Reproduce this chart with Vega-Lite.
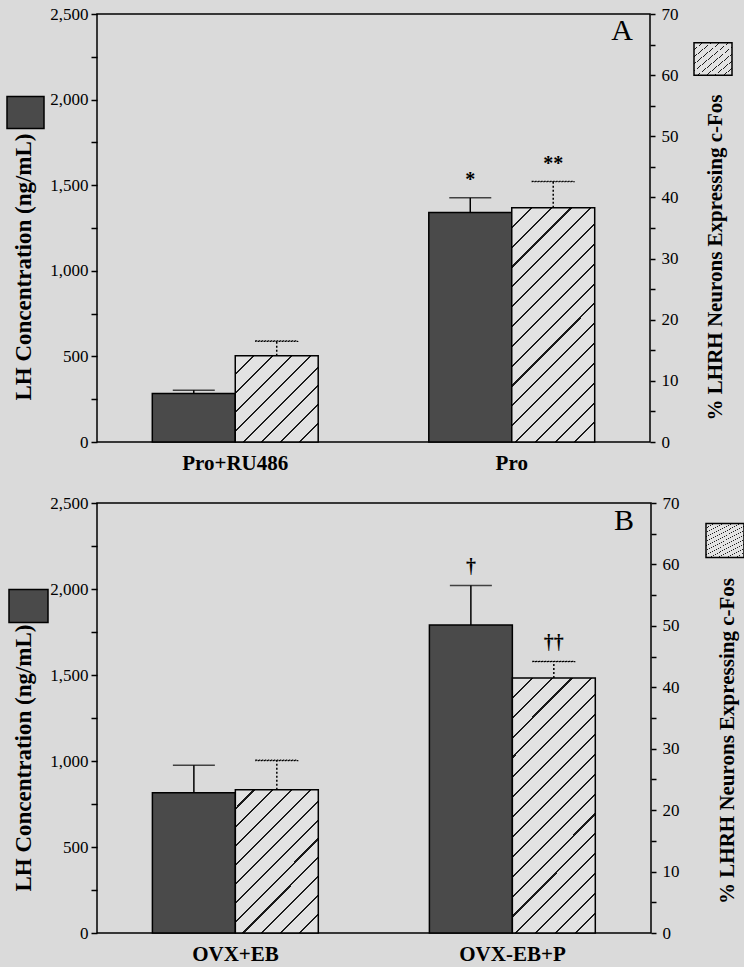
{
  "$schema": "https://vega.github.io/schema/vega-lite/v6.json",
  "background": "#dadada",
  "padding": {"left": 5, "top": 4, "right": 0, "bottom": 2},
  "spacing": 19,
  "resolve": {"scale": {"fill": "independent", "stroke": "independent"}, "legend": {"fill": "independent", "stroke": "independent"}},
  "config": {
    "font": "Liberation Serif",
    "view": {"stroke": "black", "strokeWidth": 1.5},
    "axis": {"domain": false, "grid": false, "labelFont": "Liberation Serif", "labelFontSize": 17, "labelColor": "black", "tickColor": "black", "tickWidth": 1.5, "titleFont": "Liberation Serif", "titleFontSize": 21, "titleFontWeight": "bold", "titleColor": "black"},
    "legend": {"padding": 0, "labelFontSize": 1, "labelOffset": 0, "symbolStrokeColor": "black", "symbolStrokeWidth": 1.5}
  },
  "datasets": {
    "rows": [
      {"panel": "A", "group": "Pro+RU486", "series": "LH", "mean": 283, "upper": 302, "sig": ""},
      {"panel": "A", "group": "Pro+RU486", "series": "Fos", "mean": 14.1, "upper": 16.5, "sig": ""},
      {"panel": "A", "group": "Pro", "series": "LH", "mean": 1341, "upper": 1426, "sig": "*"},
      {"panel": "A", "group": "Pro", "series": "Fos", "mean": 38.3, "upper": 42.6, "sig": "**"},
      {"panel": "B", "group": "OVX+EB", "series": "LH", "mean": 815, "upper": 976, "sig": ""},
      {"panel": "B", "group": "OVX+EB", "series": "Fos", "mean": 23.3, "upper": 28.1, "sig": ""},
      {"panel": "B", "group": "OVX-EB+P", "series": "LH", "mean": 1791, "upper": 2021, "sig": "†"},
      {"panel": "B", "group": "OVX-EB+P", "series": "Fos", "mean": 41.5, "upper": 44.2, "sig": "††"}
    ]
  },
  "vconcat": [
    {
      "width": 553,
      "height": 428,
      "title": {"text": "A", "anchor": "end", "frame": "group", "orient": "top", "offset": -41, "dx": -17, "fontSize": 30, "font": "Liberation Serif", "fontWeight": "normal", "color": "black", "baseline": "top"},
      "data": {"name": "rows"},
      "transform": [{"filter": "datum.panel === 'A'"}],
      "encoding": {
        "x": {"field": "group", "type": "nominal", "title": null, "scale": {"domain": ["Pro+RU486", "Pro"], "paddingInner": 0.4, "paddingOuter": 0.2}, "axis": {"ticks": false, "domain": false, "labelAngle": 0, "labelFontSize": 21, "labelFontWeight": "bold", "labelPadding": 10}},
        "xOffset": {"field": "series", "type": "nominal", "scale": {"domain": ["LH", "Fos"], "paddingInner": 0, "paddingOuter": 0}}
      },
      "layer": [
        {
          "transform": [{"filter": "datum.series === 'LH'"}],
          "mark": {"type": "bar", "stroke": "black", "strokeWidth": 1.5},
          "encoding": {
            "y": {"field": "mean", "type": "quantitative", "title": "LH Concentration (ng/mL)", "scale": {"domain": [0, 2500]}, "axis": {"orient": "left", "values": [0, 250, 500, 750, 1000, 1250, 1500, 1750, 2000, 2250, 2500], "format": ",d", "labelExpr": "datum.value % 500 === 0 ? datum.label : ''", "tickSize": 6, "labelPadding": 3, "titleFontSize": 23, "titleAngle": 270, "titleAlign": "center", "titleBaseline": "alphabetic", "titleX": -67, "titleY": 252.5, "encode": {"ticks": {"update": {"x2": {"signal": "datum.value % 500 === 0 ? -6 : -3"}}}}}},
            "fill": {"field": "series", "type": "nominal", "scale": {"domain": ["LH"], "range": ["#4a4a4a"]}, "legend": {"orient": "none", "legendX": -91, "legendY": 79, "title": null, "labelExpr": "''", "symbolType": "M-1,-0.86H1V0.86H-1Z", "symbolSize": 1369}}
          }
        },
        {
          "transform": [{"filter": "datum.series === 'LH'"}],
          "mark": {"type": "rule", "color": "black", "strokeWidth": 1.5},
          "encoding": {"y": {"field": "mean", "type": "quantitative", "scale": {"domain": [0, 2500]}, "axis": null}, "y2": {"field": "upper"}}
        },
        {
          "transform": [{"filter": "datum.series === 'LH'"}],
          "mark": {"type": "tick", "color": "black", "size": 42, "thickness": 1.5},
          "encoding": {"y": {"field": "upper", "type": "quantitative", "scale": {"domain": [0, 2500]}, "axis": null}}
        },
        {
          "transform": [{"filter": "datum.series === 'LH'"}],
          "mark": {"type": "text", "font": "Liberation Serif", "fontSize": 20, "fontWeight": "bold", "color": "black", "baseline": "middle", "dy": -18},
          "encoding": {"y": {"field": "upper", "type": "quantitative", "scale": {"domain": [0, 2500]}, "axis": null}, "text": {"field": "sig"}}
        },
        {
          "transform": [{"filter": "datum.series === 'Fos'"}],
          "mark": {"type": "bar", "strokeWidth": 1.5},
          "encoding": {
            "fill": {
              "condition": {"test": "datum.group === 'Pro'", "value": {"gradient": "linear", "x1": 0, "y1": 0, "x2": 0.4264, "y2": 1.2033, "stops": [
                {"offset": 0, "color": "#e2e2e2"},
                {"offset": 0.0592, "color": "#e2e2e2"}, {"offset": 0.0592, "color": "#1a1a1a"}, {"offset": 0.0658, "color": "#1a1a1a"}, {"offset": 0.0658, "color": "#e2e2e2"},
                {"offset": 0.1217, "color": "#e2e2e2"}, {"offset": 0.1217, "color": "#1a1a1a"}, {"offset": 0.1283, "color": "#1a1a1a"}, {"offset": 0.1283, "color": "#e2e2e2"},
                {"offset": 0.1842, "color": "#e2e2e2"}, {"offset": 0.1842, "color": "#1a1a1a"}, {"offset": 0.1908, "color": "#1a1a1a"}, {"offset": 0.1908, "color": "#e2e2e2"},
                {"offset": 0.2467, "color": "#e2e2e2"}, {"offset": 0.2467, "color": "#1a1a1a"}, {"offset": 0.2533, "color": "#1a1a1a"}, {"offset": 0.2533, "color": "#e2e2e2"},
                {"offset": 0.3092, "color": "#e2e2e2"}, {"offset": 0.3092, "color": "#1a1a1a"}, {"offset": 0.3158, "color": "#1a1a1a"}, {"offset": 0.3158, "color": "#e2e2e2"},
                {"offset": 0.3717, "color": "#e2e2e2"}, {"offset": 0.3717, "color": "#1a1a1a"}, {"offset": 0.3783, "color": "#1a1a1a"}, {"offset": 0.3783, "color": "#e2e2e2"},
                {"offset": 0.4342, "color": "#e2e2e2"}, {"offset": 0.4342, "color": "#1a1a1a"}, {"offset": 0.4408, "color": "#1a1a1a"}, {"offset": 0.4408, "color": "#e2e2e2"},
                {"offset": 0.4967, "color": "#e2e2e2"}, {"offset": 0.4967, "color": "#1a1a1a"}, {"offset": 0.5033, "color": "#1a1a1a"}, {"offset": 0.5033, "color": "#e2e2e2"},
                {"offset": 0.5592, "color": "#e2e2e2"}, {"offset": 0.5592, "color": "#1a1a1a"}, {"offset": 0.5658, "color": "#1a1a1a"}, {"offset": 0.5658, "color": "#e2e2e2"},
                {"offset": 0.6217, "color": "#e2e2e2"}, {"offset": 0.6217, "color": "#1a1a1a"}, {"offset": 0.6283, "color": "#1a1a1a"}, {"offset": 0.6283, "color": "#e2e2e2"},
                {"offset": 0.6842, "color": "#e2e2e2"}, {"offset": 0.6842, "color": "#1a1a1a"}, {"offset": 0.6908, "color": "#1a1a1a"}, {"offset": 0.6908, "color": "#e2e2e2"},
                {"offset": 0.7467, "color": "#e2e2e2"}, {"offset": 0.7467, "color": "#1a1a1a"}, {"offset": 0.7533, "color": "#1a1a1a"}, {"offset": 0.7533, "color": "#e2e2e2"},
                {"offset": 0.8092, "color": "#e2e2e2"}, {"offset": 0.8092, "color": "#1a1a1a"}, {"offset": 0.8158, "color": "#1a1a1a"}, {"offset": 0.8158, "color": "#e2e2e2"},
                {"offset": 0.8717, "color": "#e2e2e2"}, {"offset": 0.8717, "color": "#1a1a1a"}, {"offset": 0.8783, "color": "#1a1a1a"}, {"offset": 0.8783, "color": "#e2e2e2"},
                {"offset": 0.9342, "color": "#e2e2e2"}, {"offset": 0.9342, "color": "#1a1a1a"}, {"offset": 0.9408, "color": "#1a1a1a"}, {"offset": 0.9408, "color": "#e2e2e2"},
                {"offset": 1, "color": "#e2e2e2"}]}},
              "value": {"gradient": "linear", "x1": 0, "y1": 0, "x2": 0.981, "y2": 1.019, "stops": [
                {"offset": 0, "color": "#e2e2e2"},
                {"offset": 0.1051, "color": "#e2e2e2"}, {"offset": 0.1051, "color": "#1a1a1a"}, {"offset": 0.1171, "color": "#1a1a1a"}, {"offset": 0.1171, "color": "#e2e2e2"},
                {"offset": 0.2162, "color": "#e2e2e2"}, {"offset": 0.2162, "color": "#1a1a1a"}, {"offset": 0.2282, "color": "#1a1a1a"}, {"offset": 0.2282, "color": "#e2e2e2"},
                {"offset": 0.3273, "color": "#e2e2e2"}, {"offset": 0.3273, "color": "#1a1a1a"}, {"offset": 0.3393, "color": "#1a1a1a"}, {"offset": 0.3393, "color": "#e2e2e2"},
                {"offset": 0.4384, "color": "#e2e2e2"}, {"offset": 0.4384, "color": "#1a1a1a"}, {"offset": 0.4504, "color": "#1a1a1a"}, {"offset": 0.4504, "color": "#e2e2e2"},
                {"offset": 0.5496, "color": "#e2e2e2"}, {"offset": 0.5496, "color": "#1a1a1a"}, {"offset": 0.5616, "color": "#1a1a1a"}, {"offset": 0.5616, "color": "#e2e2e2"},
                {"offset": 0.6607, "color": "#e2e2e2"}, {"offset": 0.6607, "color": "#1a1a1a"}, {"offset": 0.6727, "color": "#1a1a1a"}, {"offset": 0.6727, "color": "#e2e2e2"},
                {"offset": 0.7718, "color": "#e2e2e2"}, {"offset": 0.7718, "color": "#1a1a1a"}, {"offset": 0.7838, "color": "#1a1a1a"}, {"offset": 0.7838, "color": "#e2e2e2"},
                {"offset": 0.8829, "color": "#e2e2e2"}, {"offset": 0.8829, "color": "#1a1a1a"}, {"offset": 0.8949, "color": "#1a1a1a"}, {"offset": 0.8949, "color": "#e2e2e2"},
                {"offset": 1, "color": "#e2e2e2"}]}
            },
            "y": {"field": "mean", "type": "quantitative", "title": "% LHRH Neurons Expressing c-Fos", "scale": {"domain": [0, 70]}, "axis": {"orient": "right", "values": [0, 5, 10, 15, 20, 25, 30, 35, 40, 45, 50, 55, 60, 65, 70], "labelExpr": "datum.value % 10 === 0 ? datum.label : ''", "tickSize": 5, "labelPadding": 6, "titleAngle": 270, "titleAlign": "center", "titleBaseline": "alphabetic", "titleX": 71, "titleY": 243, "encode": {"ticks": {"update": {"x2": {"signal": "datum.value % 10 === 0 ? 5 : 3"}}}}}},
            "stroke": {"field": "series", "type": "nominal", "scale": {"domain": ["Fos"], "range": ["black"]}, "legend": {"orient": "none", "legendX": 596, "legendY": 25, "title": null, "labelExpr": "''", "symbolType": "M-1,-0.86H1V0.86H-1Z", "symbolSize": 1444, "symbolStrokeWidth": 1.5, "encode": {"symbols": {"update": {"fill": {"value": {"gradient": "linear", "x1": 0, "y1": 0, "x2": 1, "y2": 1, "stops": [
              {"offset": 0, "color": "#1a1a1a"}, {"offset": 0.015, "color": "#1a1a1a"}, {"offset": 0.015, "color": "#e2e2e2"},
              {"offset": 0.318, "color": "#e2e2e2"}, {"offset": 0.318, "color": "#1a1a1a"}, {"offset": 0.348, "color": "#1a1a1a"}, {"offset": 0.348, "color": "#e2e2e2"},
              {"offset": 0.652, "color": "#e2e2e2"}, {"offset": 0.652, "color": "#1a1a1a"}, {"offset": 0.682, "color": "#1a1a1a"}, {"offset": 0.682, "color": "#e2e2e2"},
              {"offset": 0.985, "color": "#e2e2e2"}, {"offset": 0.985, "color": "#1a1a1a"}, {"offset": 1, "color": "#1a1a1a"}]}}, "fillOpacity": {"value": 1}}}}}}
          }
        },
        {
          "transform": [{"filter": "datum.series === 'Fos'"}],
          "mark": {"type": "rule", "color": "black", "strokeWidth": 1.5, "strokeDash": [2, 2]},
          "encoding": {"y": {"field": "mean", "type": "quantitative", "scale": {"domain": [0, 70]}, "axis": null}, "y2": {"field": "upper"}}
        },
        {
          "transform": [{"filter": "datum.series === 'Fos'"}],
          "mark": {"type": "tick", "size": 42, "thickness": 0.4, "fill": null, "fillOpacity": 0, "stroke": "black", "strokeWidth": 1.2, "strokeDash": [1.5, 1.5]},
          "encoding": {"y": {"field": "upper", "type": "quantitative", "scale": {"domain": [0, 70]}, "axis": null}}
        },
        {
          "transform": [{"filter": "datum.series === 'Fos'"}],
          "mark": {"type": "text", "font": "Liberation Serif", "fontSize": 20, "fontWeight": "bold", "color": "black", "baseline": "middle", "dy": -18},
          "encoding": {"y": {"field": "upper", "type": "quantitative", "scale": {"domain": [0, 70]}, "axis": null}, "text": {"field": "sig"}}
        }
      ],
      "resolve": {"scale": {"y": "independent"}}
    },
    {
      "width": 554,
      "height": 430,
      "title": {"text": "B", "anchor": "end", "frame": "group", "orient": "top", "offset": -41.5, "dx": -17, "fontSize": 30, "font": "Liberation Serif", "fontWeight": "normal", "color": "black", "baseline": "top"},
      "data": {"name": "rows"},
      "transform": [{"filter": "datum.panel === 'B'"}],
      "encoding": {
        "x": {"field": "group", "type": "nominal", "title": null, "scale": {"domain": ["OVX+EB", "OVX-EB+P"], "paddingInner": 0.4, "paddingOuter": 0.2}, "axis": {"ticks": false, "domain": false, "labelAngle": 0, "labelFontSize": 21, "labelFontWeight": "bold", "labelPadding": 10}},
        "xOffset": {"field": "series", "type": "nominal", "scale": {"domain": ["LH", "Fos"], "paddingInner": 0, "paddingOuter": 0}}
      },
      "layer": [
        {
          "transform": [{"filter": "datum.series === 'LH'"}],
          "mark": {"type": "bar", "stroke": "black", "strokeWidth": 1.5},
          "encoding": {
            "y": {"field": "mean", "type": "quantitative", "title": "LH Concentration (ng/mL)", "scale": {"domain": [0, 2500]}, "axis": {"orient": "left", "values": [0, 250, 500, 750, 1000, 1250, 1500, 1750, 2000, 2250, 2500], "format": ",d", "labelExpr": "datum.value % 500 === 0 ? datum.label : ''", "tickSize": 6, "labelPadding": 3, "titleFontSize": 23, "titleAngle": 270, "titleAlign": "center", "titleBaseline": "alphabetic", "titleX": -67, "titleY": 254.5, "encode": {"ticks": {"update": {"x2": {"signal": "datum.value % 500 === 0 ? -6 : -3"}}}}}},
            "fill": {"field": "series", "type": "nominal", "scale": {"domain": ["LH"], "range": ["#4a4a4a"]}, "legend": {"orient": "none", "legendX": -89, "legendY": 82.5, "title": null, "labelExpr": "''", "symbolType": "M-1,-0.85H1V0.85H-1Z", "symbolSize": 1521}}
          }
        },
        {
          "transform": [{"filter": "datum.series === 'LH'"}],
          "mark": {"type": "rule", "color": "black", "strokeWidth": 1.5},
          "encoding": {"y": {"field": "mean", "type": "quantitative", "scale": {"domain": [0, 2500]}, "axis": null}, "y2": {"field": "upper"}}
        },
        {
          "transform": [{"filter": "datum.series === 'LH'"}],
          "mark": {"type": "tick", "color": "black", "size": 42, "thickness": 1.5},
          "encoding": {"y": {"field": "upper", "type": "quantitative", "scale": {"domain": [0, 2500]}, "axis": null}}
        },
        {
          "transform": [{"filter": "datum.series === 'LH'"}],
          "mark": {"type": "text", "font": "Liberation Serif", "fontSize": 20, "fontWeight": "bold", "color": "black", "baseline": "middle", "dy": -18},
          "encoding": {"y": {"field": "upper", "type": "quantitative", "scale": {"domain": [0, 2500]}, "axis": null}, "text": {"field": "sig"}}
        },
        {
          "transform": [{"filter": "datum.series === 'Fos'"}],
          "mark": {"type": "bar", "strokeWidth": 1.5},
          "encoding": {
            "fill": {
              "condition": {"test": "datum.group === 'OVX-EB+P'", "value": {"gradient": "linear", "x1": 0, "y1": 0, "x2": 0.3907, "y2": 1.1986, "stops": [
                {"offset": 0, "color": "#e2e2e2"},
                {"offset": 0.0557, "color": "#e2e2e2"}, {"offset": 0.0557, "color": "#1a1a1a"}, {"offset": 0.0619, "color": "#1a1a1a"}, {"offset": 0.0619, "color": "#e2e2e2"},
                {"offset": 0.1145, "color": "#e2e2e2"}, {"offset": 0.1145, "color": "#1a1a1a"}, {"offset": 0.1207, "color": "#1a1a1a"}, {"offset": 0.1207, "color": "#e2e2e2"},
                {"offset": 0.1734, "color": "#e2e2e2"}, {"offset": 0.1734, "color": "#1a1a1a"}, {"offset": 0.1796, "color": "#1a1a1a"}, {"offset": 0.1796, "color": "#e2e2e2"},
                {"offset": 0.2322, "color": "#e2e2e2"}, {"offset": 0.2322, "color": "#1a1a1a"}, {"offset": 0.2384, "color": "#1a1a1a"}, {"offset": 0.2384, "color": "#e2e2e2"},
                {"offset": 0.2910, "color": "#e2e2e2"}, {"offset": 0.2910, "color": "#1a1a1a"}, {"offset": 0.2972, "color": "#1a1a1a"}, {"offset": 0.2972, "color": "#e2e2e2"},
                {"offset": 0.3498, "color": "#e2e2e2"}, {"offset": 0.3498, "color": "#1a1a1a"}, {"offset": 0.3560, "color": "#1a1a1a"}, {"offset": 0.3560, "color": "#e2e2e2"},
                {"offset": 0.4087, "color": "#e2e2e2"}, {"offset": 0.4087, "color": "#1a1a1a"}, {"offset": 0.4149, "color": "#1a1a1a"}, {"offset": 0.4149, "color": "#e2e2e2"},
                {"offset": 0.4675, "color": "#e2e2e2"}, {"offset": 0.4675, "color": "#1a1a1a"}, {"offset": 0.4737, "color": "#1a1a1a"}, {"offset": 0.4737, "color": "#e2e2e2"},
                {"offset": 0.5263, "color": "#e2e2e2"}, {"offset": 0.5263, "color": "#1a1a1a"}, {"offset": 0.5325, "color": "#1a1a1a"}, {"offset": 0.5325, "color": "#e2e2e2"},
                {"offset": 0.5851, "color": "#e2e2e2"}, {"offset": 0.5851, "color": "#1a1a1a"}, {"offset": 0.5913, "color": "#1a1a1a"}, {"offset": 0.5913, "color": "#e2e2e2"},
                {"offset": 0.6440, "color": "#e2e2e2"}, {"offset": 0.6440, "color": "#1a1a1a"}, {"offset": 0.6502, "color": "#1a1a1a"}, {"offset": 0.6502, "color": "#e2e2e2"},
                {"offset": 0.7028, "color": "#e2e2e2"}, {"offset": 0.7028, "color": "#1a1a1a"}, {"offset": 0.7090, "color": "#1a1a1a"}, {"offset": 0.7090, "color": "#e2e2e2"},
                {"offset": 0.7616, "color": "#e2e2e2"}, {"offset": 0.7616, "color": "#1a1a1a"}, {"offset": 0.7678, "color": "#1a1a1a"}, {"offset": 0.7678, "color": "#e2e2e2"},
                {"offset": 0.8204, "color": "#e2e2e2"}, {"offset": 0.8204, "color": "#1a1a1a"}, {"offset": 0.8266, "color": "#1a1a1a"}, {"offset": 0.8266, "color": "#e2e2e2"},
                {"offset": 0.8793, "color": "#e2e2e2"}, {"offset": 0.8793, "color": "#1a1a1a"}, {"offset": 0.8855, "color": "#1a1a1a"}, {"offset": 0.8855, "color": "#e2e2e2"},
                {"offset": 0.9381, "color": "#e2e2e2"}, {"offset": 0.9381, "color": "#1a1a1a"}, {"offset": 0.9443, "color": "#1a1a1a"}, {"offset": 0.9443, "color": "#e2e2e2"},
                {"offset": 1, "color": "#e2e2e2"}]}},
              "value": {"gradient": "linear", "x1": 0, "y1": 0, "x2": 0.6864, "y2": 1.182, "stops": [
                {"offset": 0, "color": "#e2e2e2"},
                {"offset": 0.0786, "color": "#e2e2e2"}, {"offset": 0.0786, "color": "#1a1a1a"}, {"offset": 0.0880, "color": "#1a1a1a"}, {"offset": 0.0880, "color": "#e2e2e2"},
                {"offset": 0.1620, "color": "#e2e2e2"}, {"offset": 0.1620, "color": "#1a1a1a"}, {"offset": 0.1714, "color": "#1a1a1a"}, {"offset": 0.1714, "color": "#e2e2e2"},
                {"offset": 0.2453, "color": "#e2e2e2"}, {"offset": 0.2453, "color": "#1a1a1a"}, {"offset": 0.2547, "color": "#1a1a1a"}, {"offset": 0.2547, "color": "#e2e2e2"},
                {"offset": 0.3286, "color": "#e2e2e2"}, {"offset": 0.3286, "color": "#1a1a1a"}, {"offset": 0.3380, "color": "#1a1a1a"}, {"offset": 0.3380, "color": "#e2e2e2"},
                {"offset": 0.4120, "color": "#e2e2e2"}, {"offset": 0.4120, "color": "#1a1a1a"}, {"offset": 0.4214, "color": "#1a1a1a"}, {"offset": 0.4214, "color": "#e2e2e2"},
                {"offset": 0.4953, "color": "#e2e2e2"}, {"offset": 0.4953, "color": "#1a1a1a"}, {"offset": 0.5047, "color": "#1a1a1a"}, {"offset": 0.5047, "color": "#e2e2e2"},
                {"offset": 0.5786, "color": "#e2e2e2"}, {"offset": 0.5786, "color": "#1a1a1a"}, {"offset": 0.5880, "color": "#1a1a1a"}, {"offset": 0.5880, "color": "#e2e2e2"},
                {"offset": 0.6620, "color": "#e2e2e2"}, {"offset": 0.6620, "color": "#1a1a1a"}, {"offset": 0.6714, "color": "#1a1a1a"}, {"offset": 0.6714, "color": "#e2e2e2"},
                {"offset": 0.7453, "color": "#e2e2e2"}, {"offset": 0.7453, "color": "#1a1a1a"}, {"offset": 0.7547, "color": "#1a1a1a"}, {"offset": 0.7547, "color": "#e2e2e2"},
                {"offset": 0.8286, "color": "#e2e2e2"}, {"offset": 0.8286, "color": "#1a1a1a"}, {"offset": 0.8380, "color": "#1a1a1a"}, {"offset": 0.8380, "color": "#e2e2e2"},
                {"offset": 0.9120, "color": "#e2e2e2"}, {"offset": 0.9120, "color": "#1a1a1a"}, {"offset": 0.9214, "color": "#1a1a1a"}, {"offset": 0.9214, "color": "#e2e2e2"},
                {"offset": 1, "color": "#e2e2e2"}]}
            },
            "y": {"field": "mean", "type": "quantitative", "title": "% LHRH Neurons Expressing c-Fos", "scale": {"domain": [0, 70]}, "axis": {"orient": "right", "values": [0, 5, 10, 15, 20, 25, 30, 35, 40, 45, 50, 55, 60, 65, 70], "labelExpr": "datum.value % 10 === 0 ? datum.label : ''", "tickSize": 5, "labelPadding": 6, "titleAngle": 270, "titleAlign": "center", "titleBaseline": "alphabetic", "titleX": 82, "titleY": 237.5, "encode": {"ticks": {"update": {"x2": {"signal": "datum.value % 10 === 0 ? 5 : 3"}}}}}},
            "stroke": {"field": "series", "type": "nominal", "scale": {"domain": ["Fos"], "range": ["black"]}, "legend": {"orient": "none", "legendX": 608, "legendY": 17.5, "title": null, "labelExpr": "''", "symbolType": "M-1,-0.89H1V0.89H-1Z", "symbolSize": 1444, "symbolStrokeWidth": 1.5, "encode": {"symbols": {"update": {"fill": {"value": {"gradient": "linear", "x1": 0, "y1": 0, "x2": 1, "y2": 1, "stops": [
              {"offset": 0, "color": "#1a1a1a"}, {"offset": 0.015, "color": "#1a1a1a"}, {"offset": 0.015, "color": "#e2e2e2"},
              {"offset": 0.318, "color": "#e2e2e2"}, {"offset": 0.318, "color": "#1a1a1a"}, {"offset": 0.348, "color": "#1a1a1a"}, {"offset": 0.348, "color": "#e2e2e2"},
              {"offset": 0.652, "color": "#e2e2e2"}, {"offset": 0.652, "color": "#1a1a1a"}, {"offset": 0.682, "color": "#1a1a1a"}, {"offset": 0.682, "color": "#e2e2e2"},
              {"offset": 0.985, "color": "#e2e2e2"}, {"offset": 0.985, "color": "#1a1a1a"}, {"offset": 1, "color": "#1a1a1a"}]}}, "fillOpacity": {"value": 1}}}}}}
          }
        },
        {
          "transform": [{"filter": "datum.series === 'Fos'"}],
          "mark": {"type": "rule", "color": "black", "strokeWidth": 1.5, "strokeDash": [2, 2]},
          "encoding": {"y": {"field": "mean", "type": "quantitative", "scale": {"domain": [0, 70]}, "axis": null}, "y2": {"field": "upper"}}
        },
        {
          "transform": [{"filter": "datum.series === 'Fos'"}],
          "mark": {"type": "tick", "size": 42, "thickness": 0.4, "fill": null, "fillOpacity": 0, "stroke": "black", "strokeWidth": 1.2, "strokeDash": [1.5, 1.5]},
          "encoding": {"y": {"field": "upper", "type": "quantitative", "scale": {"domain": [0, 70]}, "axis": null}}
        },
        {
          "transform": [{"filter": "datum.series === 'Fos'"}],
          "mark": {"type": "text", "font": "Liberation Serif", "fontSize": 20, "fontWeight": "bold", "color": "black", "baseline": "middle", "dy": -18},
          "encoding": {"y": {"field": "upper", "type": "quantitative", "scale": {"domain": [0, 70]}, "axis": null}, "text": {"field": "sig"}}
        }
      ],
      "resolve": {"scale": {"y": "independent"}}
    }
  ]
}
